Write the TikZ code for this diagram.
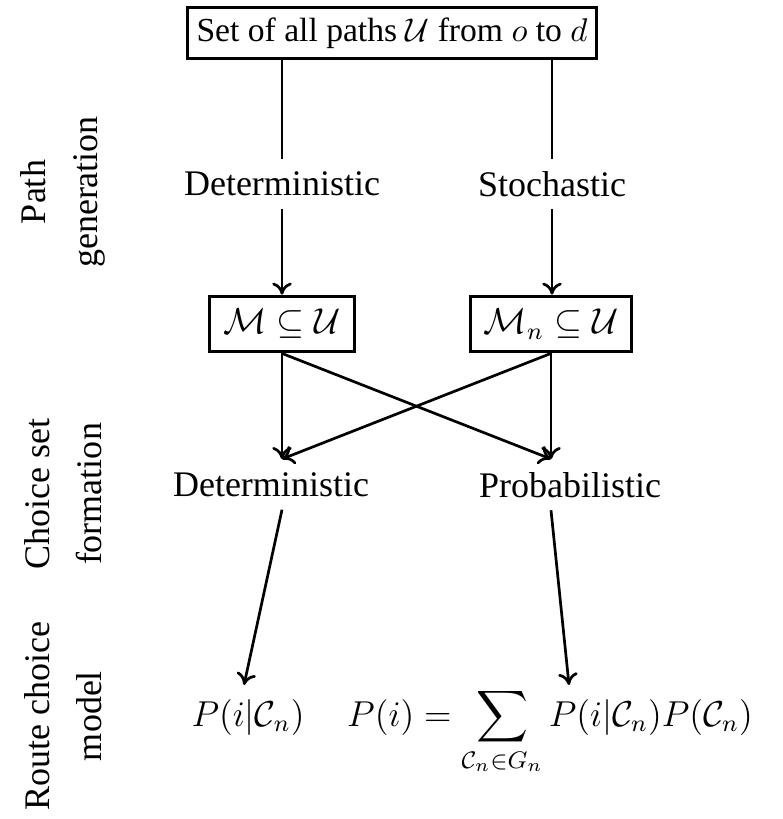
\documentclass[tikz,border=0pt]{standalone}
\usepackage[no-math]{fontspec}
\setmainfont{Liberation Serif}
\usepackage{amsmath,amssymb}
\usetikzlibrary{arrows.meta,positioning,calc}

\begin{document}
\begin{tikzpicture}[x=0.3333pt,y=-0.3333pt,
    every node/.style={font=\fontsize{12}{14.5}\selectfont},
    setbox/.style={draw, line width=1pt, inner xsep=4.6pt, minimum height=18.6pt},
    stage/.style={inner sep=4pt},
    rowlabel/.style={rotate=90, align=center, font=\fontsize{12}{17.5}\selectfont},
    link/.style={line width=0.9pt},
    flow/.style={line width=0.9pt, -{To[length=4pt,width=6.5pt]}}]
    \useasboundingbox (0,0) rectangle (782,819);

    % all paths
    \node[setbox, inner xsep=2pt, minimum width=136.3pt, minimum height=16.6pt,
        font=\fontsize{11.2}{13}\selectfont] (allpaths) at (392,33)
        {Set of all paths $\mathcal{U}$ from $o$ to $d$};

    % path generation
    \node[stage] (gendet) at (282,184) {Deterministic};
    \node[stage] (genstoch) at (552,184) {Stochastic};
    \node[setbox] (mdet) at (282,324) {$\mathcal{M} \subseteq \mathcal{U}$};
    \node[setbox] (mstoch) at (551,324) {$\mathcal{M}_n \subseteq \mathcal{U}$};

    \draw[link] (allpaths.south -| gendet) -- (gendet);
    \draw[link] (allpaths.south -| genstoch) -- (genstoch);
    \draw[flow] (gendet) -- (mdet);
    \draw[flow] (genstoch) -- (mstoch.north -| genstoch);

    % choice set formation
    \coordinate (tipdet) at (282,459);
    \coordinate (tipprob) at (551,459);
    \node[stage] (csdet) at (271,485) {Deterministic};
    \node[stage] (csprob) at (570,485) {Probabilistic};

    \draw[flow] (mdet.south) -- (tipdet);
    \draw[flow] (mdet.south) -- (tipprob);
    \draw[flow] (mstoch.south) -- (tipprob);
    \draw[flow] (mstoch.south) -- (tipdet);

    % route choice model
    \coordinate (tipcond) at (244,685);
    \coordinate (tiptot) at (569,685);
    \node[anchor=base] (pcond) at (248,726) {$P(i|\mathcal{C}_n)$};
    \node[anchor=base] (ptot) at (550,726)
        {$P(i) = \displaystyle\sum_{\mathcal{C}_n \in G_n} P(i|\mathcal{C}_n)P(\mathcal{C}_n)$};

    \draw[flow] (csdet.south -| tipdet) -- (tipcond);
    \draw[flow] (csprob.south -| tipprob) -- (tiptot);

    % row labels
    \node[rowlabel] (rowgen) at (63,192) {Path\\generation};
    \node[rowlabel] (rowcs) at (63,494) {Choice set\\formation};
    \node[rowlabel] (rowrc) at (63,716) {Route choice\\model};
\end{tikzpicture}
\end{document}
